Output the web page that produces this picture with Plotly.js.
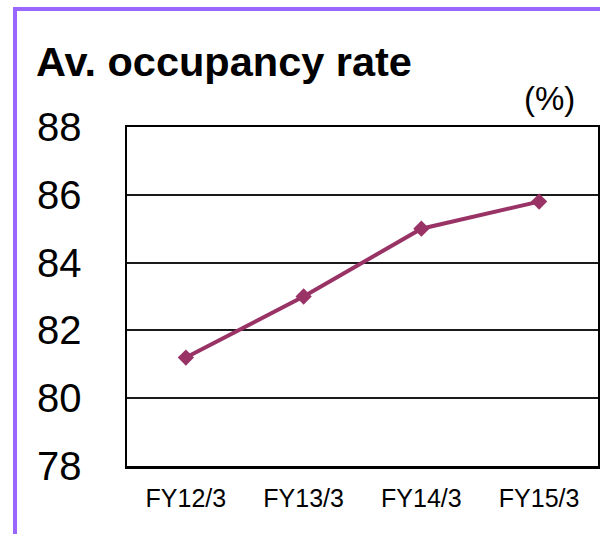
<!DOCTYPE html>
<html>
<head>
<meta charset="utf-8">
<script src="https://cdn.plot.ly/plotly-3.0.1.min.js"></script>
<style>
  html, body { margin: 0; padding: 0; background: #fff; }
  #wrap { position: relative; width: 600px; height: 534px; overflow: hidden; }
  #chart { position: absolute; left: 0; top: 0; width: 600px; height: 534px; }
  #frame { position: absolute; left: 13px; top: 7px; width: 700px; height: 600px;
           border-left: 4px solid #9966ff; border-top: 4px solid #9966ff; pointer-events: none; }
</style>
</head>
<body>
<div id="wrap">
  <div id="chart"></div>
  <div id="frame"></div>
</div>
<script>
const categories = ["FY12/3", "FY13/3", "FY14/3", "FY15/3"];
const occupancy = [81.2, 83.0, 85.0, 85.8];
const yTicks = [78, 80, 82, 84, 86, 88];

const FONT = '"Liberation Sans", Arial, sans-serif';

const trace = {
  type: 'scatter',
  mode: 'lines+markers',
  x: categories,
  y: occupancy,
  line: { color: '#993366', width: 4 },
  marker: { symbol: 'diamond', size: 12.5, color: '#993366' },
  hoverinfo: 'skip'
};

const layout = {
  width: 600,
  height: 534,
  margin: { l: 127, r: 2, t: 127, b: 68 },
  paper_bgcolor: '#ffffff',
  plot_bgcolor: '#ffffff',
  showlegend: false,
  font: { family: FONT, color: '#000' },
  title: {
    text: '<b>Av. occupancy rate</b>',
    font: { family: FONT, size: 41.5, color: '#000' },
    x: 36 / 600, xanchor: 'left', xref: 'container',
    y: 1 - 61 / 534, yanchor: 'middle', yref: 'container'
  },
  xaxis: {
    type: 'category',
    range: [-0.5, 3.5],
    showgrid: false,
    zeroline: false,
    showline: true, mirror: true, linecolor: '#000', linewidth: 2.5,
    ticks: '',
    tickfont: { family: FONT, size: 25, color: '#000' },
    ticklabelstandoff: 8
  },
  yaxis: {
    range: [78, 88],
    tickvals: yTicks,
    ticktext: yTicks.map(String),
    showgrid: true, gridcolor: '#1a1a1a', gridwidth: 2,
    zeroline: false,
    showline: true, mirror: true, linecolor: '#000', linewidth: 2.5,
    ticks: '',
    tickfont: { family: FONT, size: 40, color: '#000' },
    ticklabelstandoff: 35
  },
  annotations: [{
    text: '(%)',
    xref: 'paper', yref: 'paper',
    x: (549 - 127) / 471, y: (466 - 99) / 339,
    xanchor: 'center', yanchor: 'middle',
    showarrow: false,
    font: { family: FONT, size: 33, color: '#000' }
  }]
};

Plotly.newPlot('chart', [trace], layout, { staticPlot: true, displayModeBar: false });
</script>
</body>
</html>
